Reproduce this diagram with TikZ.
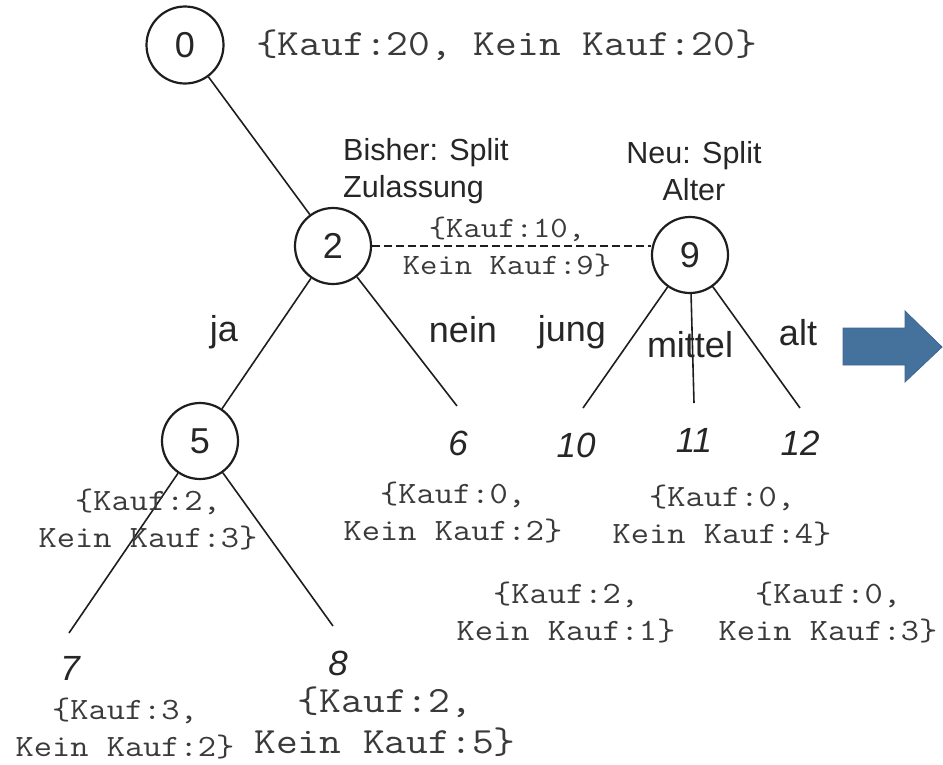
\documentclass[tikz,border=0pt]{standalone}
\usepackage{fontspec}
\setmainfont{Liberation Sans}
\newfontfamily\monof{Latin Modern Mono}[FakeStretch=1.143]
\definecolor{linec}{HTML}{1E1E1E}
\definecolor{textc}{HTML}{262626}
\definecolor{monoc}{HTML}{3A3A3A}
\definecolor{arrowc}{RGB}{68,114,157}
\definecolor{arrowd}{RGB}{60,100,145}
\begin{document}
\begin{tikzpicture}[x=1pt,y=-1pt,
  circ/.style={circle, draw=linec, line width=2.2pt, minimum size=76pt, inner sep=0pt, text=textc, font=\fontsize{36}{40}\selectfont},
  cnt/.style={font=\monof\fontsize{31}{37}\selectfont, text=monoc, align=center, inner sep=0pt},
  cntbig/.style={font=\monof\fontsize{37}{41}\selectfont, text=monoc, align=center, inner sep=0pt},
  lbl/.style={font=\fontsize{36}{40}\selectfont, text=textc, inner sep=0pt},
  split/.style={font=\fontsize{30.5}{37}\selectfont, text=textc, inner sep=0pt},
  leaf/.style={font=\itshape\fontsize{35}{40}\selectfont, text=textc, inner sep=0pt},
  edge/.style={draw=linec, line width=1.6pt}]
\useasboundingbox (0,0) rectangle (943,764);
% circles
\node[circ, minimum size=77pt] (n0) at (185,45) {0};
\node[circ] (n2) at (333,246) {2};
\node[circ] (n9) at (690,255) {9};
\node[circ] (n5) at (200,441) {5};
% leaf end points
\coordinate (e6) at (457,406);
\coordinate (e10) at (583,408);
\coordinate (e11) at (694,403);
\coordinate (e12) at (800,408);
\coordinate (e7) at (69,633);
\coordinate (e8) at (333,626);
% edges
\draw[edge] (n0) -- (n2);
\draw[edge] (n2) -- (n5);
\draw[edge] (n2) -- (e6);
\draw[edge] (n9) -- (e10);
\draw[edge] (n9) -- (e11);
\draw[edge] (n9) -- (e12);
\draw[edge] (n5) -- (e7);
\draw[edge] (n5) -- (e8);
\draw[edge, line width=1.3pt, dash pattern=on 8pt off 4pt] (n2.east) -- (n2.east -| n9.west);
% texts
\node[font=\monof\fontsize{37}{44}\selectfont, text=monoc, inner sep=0pt, anchor=west] (t0) at (256,45) {\{Kauf:20, Kein Kauf:20\}};
\node[split, align=left, anchor=west] (s1) at (343,171) {Bisher: Split\\Zulassung};
\node[split, align=center] (s2) at (694,171) {Neu: Split\\Alter};
\node[font=\monof\fontsize{29.5}{37}\selectfont, text=monoc, align=center, inner sep=0pt] (t2) at (507,247) {\{Kauf:10,\\Kein Kauf:9\}};
\node[lbl] (lja) at (224,332) {ja};
\node[lbl] (lnein) at (463,330) {nein};
\node[lbl] (ljung) at (572,332) {jung};
\node[lbl] (lmittel) at (690,345) {mittel};
\node[lbl] (lalt) at (798,333) {alt};
\node[leaf] (l6) at (458,443) {6};
\node[leaf] (l10) at (576,445) {10};
\node[leaf] (l11) at (694,440) {11};
\node[leaf] (l12) at (800,443) {12};
\node[leaf] (l7) at (70,668) {7};
\node[leaf] (l8) at (338,663) {8};
\node[cnt] (t6) at (453,513) {\{Kauf:0,\\Kein Kauf:2\}};
\node[cnt] (t11) at (722,516) {\{Kauf:0,\\Kein Kauf:4\}};
\node[cnt] (t10) at (566,613) {\{Kauf:2,\\Kein Kauf:1\}};
\node[cnt] (t12) at (828,613) {\{Kauf:0,\\Kein Kauf:3\}};
\node[cnt] (t5) at (148,520) {\{Kauf:2,\\Kein Kauf:3\}};
\node[cnt] (t7) at (125,729) {\{Kauf:3,\\Kein Kauf:2\}};
\node[cntbig] (t8) at (385,722) {\{Kauf:2,\\Kein Kauf:5\}};
% blue arrow
\fill[arrowc, draw=arrowd, line width=0.8pt] (843,328) -- (905,328) -- (905,311) -- (942,347) -- (905,382) -- (905,365) -- (843,365) -- cycle;
\end{tikzpicture}
\end{document}
